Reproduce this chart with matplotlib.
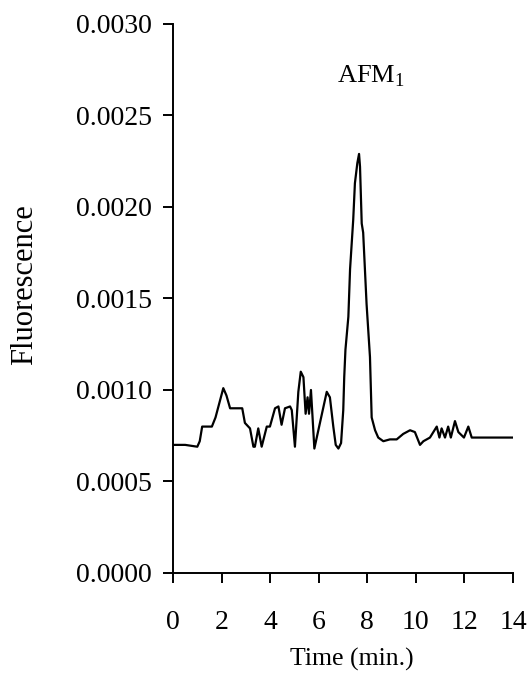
import matplotlib
matplotlib.use("Agg")
import matplotlib.pyplot as plt

plt.rcParams['font.family'] = ['Liberation Serif', 'DejaVu Serif']
plt.rcParams['mathtext.fontset'] = 'custom'
plt.rcParams['mathtext.rm'] = 'Liberation Serif'

# chromatogram trace
time_min = [0.0, 0.5, 1.0, 1.1, 1.2, 1.6, 1.75, 2.07, 2.2, 2.35, 2.85, 2.96,
            3.17, 3.31, 3.37, 3.51, 3.65, 3.86, 3.99, 4.2, 4.34, 4.47, 4.61,
            4.82, 4.89, 5.02, 5.16, 5.26, 5.37, 5.46, 5.54, 5.6, 5.68, 5.82,
            6.05, 6.33, 6.46, 6.6, 6.7, 6.81, 6.92, 7.01, 7.05, 7.1, 7.22,
            7.29, 7.42, 7.49, 7.59, 7.66, 7.7, 7.77, 7.83, 7.97, 8.11, 8.18,
            8.32, 8.45, 8.66, 8.93, 9.21, 9.48, 9.76, 9.96, 10.17, 10.31,
            10.58, 10.86, 10.97, 11.06, 11.2, 11.33, 11.44, 11.61, 11.75,
            11.98, 12.16, 12.3, 14.0]
fluor = [0.00070, 0.00070, 0.00069, 0.00072, 0.00080, 0.00080, 0.00085,
         0.00101, 0.00097, 0.00090, 0.00090, 0.00082, 0.00079, 0.00069,
         0.00069, 0.00079, 0.00069, 0.00080, 0.00080, 0.00090, 0.00091,
         0.00081, 0.00090, 0.00091, 0.00089, 0.00069, 0.00099, 0.00110,
         0.00107, 0.00087, 0.00096, 0.00087, 0.00100, 0.00068, 0.00082,
         0.00099, 0.00096, 0.00080, 0.00070, 0.00068, 0.00071, 0.00089,
         0.00107, 0.00122, 0.00140, 0.00166, 0.00193, 0.00213, 0.00224,
         0.00229, 0.00222, 0.00191, 0.00186, 0.00147, 0.00118, 0.00085,
         0.00078, 0.00074, 0.00072, 0.00073, 0.00073, 0.00076, 0.00078,
         0.00077, 0.00070, 0.00072, 0.00074, 0.00080, 0.00074, 0.00079,
         0.00074, 0.00080, 0.00074, 0.00083, 0.00077, 0.00074, 0.00080,
         0.00074, 0.00074]

xticks = [0, 2, 4, 6, 8, 10, 12, 14]
yticks = [0.0, 0.0005, 0.0010, 0.0015, 0.0020, 0.0025, 0.0030]

fig = plt.figure(figsize=(5.28, 6.76), dpi=100)
ax = fig.add_axes([0.3277, 0.1524, 0.6439, 0.8121])

ax.plot(time_min, fluor, color='black', linewidth=1.6)

ax.set_xlim(0, 14)
ax.set_ylim(0, 0.003)
ax.set_xticks(xticks)
ax.set_yticks(yticks)
ax.set_yticklabels([f'{v:.4f}' for v in yticks])

for side in ['top', 'right']:
    ax.spines[side].set_visible(False)
for side in ['left', 'bottom']:
    ax.spines[side].set_linewidth(1.4)

ax.tick_params(axis='both', direction='out', length=7, width=1.4, labelsize=20)
ax.tick_params(axis='x', pad=20)
ax.tick_params(axis='y', pad=8)

ax.set_xlabel('Time (min.)', fontsize=18.5)
ax.set_ylabel('Fluorescence', fontsize=22)
ax.xaxis.set_label_coords(0.526, -0.137)
ax.yaxis.set_label_coords(-0.394, 0.525)

ax.text(6.75, 0.00268, r'AFM$_\mathrm{1}$', fontsize=19, ha='left', va='baseline')

plt.savefig("out.png", dpi=100)
